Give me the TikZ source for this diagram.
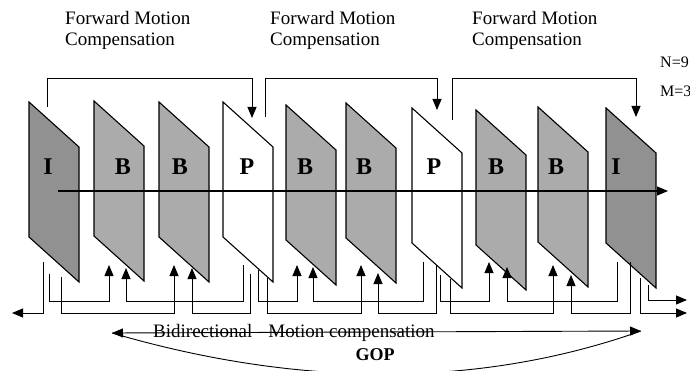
\documentclass[tikz,border=0pt]{standalone}
\usepackage{fontspec}
\setmainfont{Liberation Serif}
\usetikzlibrary{arrows.meta}
\tikzset{
  frm/.style={draw=black, line width=1.1pt, line join=miter},
  lbl/.style={font=\fontsize{24}{24}\selectfont\bfseries, inner sep=0pt},
  txt/.style={font=\fontsize{19}{22}\selectfont, inner sep=0pt},
  smalltxt/.style={font=\fontsize{16}{18}\selectfont, inner sep=0pt},
  goptxt/.style={font=\fontsize{18}{20}\selectfont\bfseries, inner sep=0pt},
  conn/.style={line width=0.9pt},
  arr/.style={conn, -{Triangle[width=9pt,length=11pt]}},
  axisarr/.style={line width=1.1pt, -{Triangle[width=9pt,length=11pt]}}
}
\colorlet{icol}{black!43}
\colorlet{bcol}{black!33}
\colorlet{pcol}{white}
\begin{document}
\begin{tikzpicture}[x=1pt,y=-1pt]
\useasboundingbox (0,0) rectangle (690,371);

% frames
\foreach \L/\T/\fc/\ch/\lx [count=\i] in
  {29/102/icol/I/48, 94/101/bcol/B/123, 159/102/bcol/B/180, 223/102/pcol/P/247,
   286/105/bcol/B/305, 346/103/bcol/B/364, 412/108/pcol/P/434, 476/110/bcol/B/496,
   538/107/bcol/B/556, 606/108/icol/I/616}
{
  \draw[frm, fill=\fc] (\L,\T) -- ++(50,45) -- ++(0,135) -- ++(-50,-45) -- cycle;
  \node[lbl] (f\i) at (\lx,167) {\ch};
}

% time axis
\coordinate (ax0) at (58,191);
\coordinate (ax1) at (668,191);
\draw[axisarr] (ax0) -- (ax1);

% top texts
\node[txt, anchor=base west] (fa1) at (65,25) {Forward Motion};
\node[txt, anchor=base west] (fb1) at (65,46) {Compensation};
\node[txt, anchor=base west] (fa2) at (270,25) {Forward Motion};
\node[txt, anchor=base west] (fb2) at (270,46) {Compensation};
\node[txt, anchor=base west] (fa3) at (472,25) {Forward Motion};
\node[txt, anchor=base west] (fb3) at (472,46) {Compensation};
\node[smalltxt, anchor=base west] (nn) at (660,68) {N=9};
\node[smalltxt, anchor=base west] (mm) at (660,97) {M=3};

% forward motion compensation connectors
\foreach \xs/\ys/\lv/\xd/\td [count=\k] in
  {47/107/78/252/118, 265/117/78/437/110, 452/120/78/636/117}
{
  \coordinate (ts\k) at (\xs,\ys);
  \coordinate (td\k) at (\xd,\td);
  \draw[arr] (ts\k) -- (\xs,\lv) -- (\xd,\lv) -- (td\k);
}

% bidirectional connectors
\foreach \xs/\ys/\lv/\xd/\td [count=\k] in
  {49/274/301/109/265, 61/277/313/174/265, 243/265/301/126/268, 250/274/313/192/268,
   258/270/301/297/265, 267/278/313/361/265, 423/262/301/313/267, 436/265/313/378/273,
   440/275/301/489/262, 450/279/313/553/265, 617/262/301/507/267, 630/262/313/571/275}
{
  \coordinate (bs\k) at (\xs,\ys);
  \coordinate (bd\k) at (\xd,\td);
  \draw[arr] (bs\k) -- (\xs,\lv) -- (\xd,\lv) -- (bd\k);
}

% outgoing connectors
\coordinate (ol0) at (43,262);  \coordinate (ol1) at (12,313);
\draw[arr] (ol0) -- (43,313) -- (ol1);
\coordinate (or0) at (640,278); \coordinate (or1) at (687,313);
\draw[arr] (or0) -- (640,313) -- (or1);
\coordinate (or2) at (648,285); \coordinate (or3) at (687,300);
\draw[arr] (or2) -- (648,300) -- (or3);

% bidirectional / GOP span
\node[txt, anchor=base west] (bid) at (153,337) {Bidirectional\hspace{16pt}Motion compensation};
\node[goptxt, anchor=base] (gop) at (375,360) {GOP};
\coordinate (gl) at (112,333);
\coordinate (gr) at (641,331);
\draw[conn, {Triangle[width=9pt,length=11pt]}-{Triangle[width=9pt,length=11pt]}] (gl) -- (gr);
\draw[conn] (gl) .. controls (300,388) and (480,388) .. (gr);
\end{tikzpicture}
\end{document}
